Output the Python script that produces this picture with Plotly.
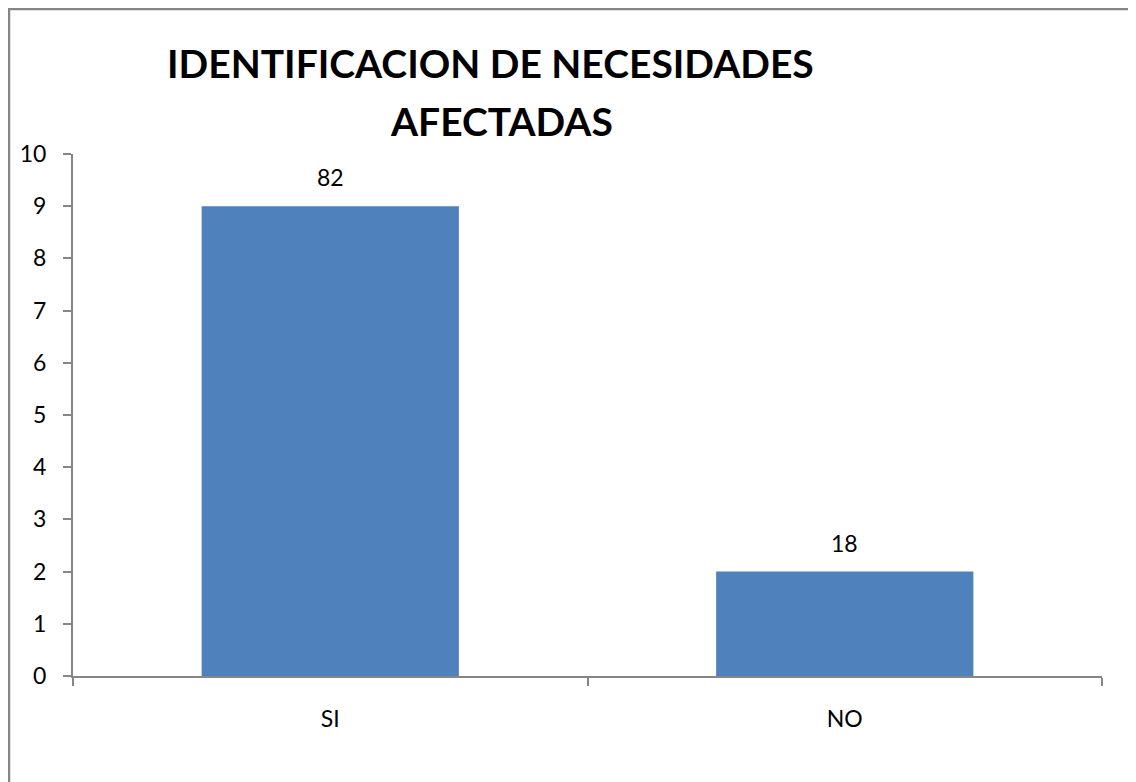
import plotly.graph_objects as go

# data
categorias = ['SI', 'NO']
valores = [9, 2]
etiquetas = ['82', '18']
titulo_1 = 'IDENTIFICACION DE NECESIDADES'
titulo_2 = 'AFECTADAS'

gris = '#868686'
azul = '#4F81BD'

fig = go.Figure()

fig.add_trace(go.Bar(
    x=categorias, y=valores,
    marker=dict(color=azul, line=dict(width=0)),
    width=0.5, hoverinfo='x+y',
))

# value labels sit a little above each bar, like the excel original
for cat, val, txt in zip(categorias, valores, etiquetas):
    fig.add_annotation(
        x=cat, y=val, text=txt, showarrow=False,
        yanchor='bottom', yshift=13,
        font=dict(family='Lato', size=23, color='black'),
    )

# two-line title
fig.add_annotation(
    text=titulo_1, xref='paper', yref='paper',
    x=0.4062, y=1.1734, xanchor='center', yanchor='middle',
    showarrow=False,
    font=dict(family='Lato', size=39, color='black', weight='bold'),
)
fig.add_annotation(
    text=titulo_2, xref='paper', yref='paper',
    x=0.4169, y=1.0623, xanchor='center', yanchor='middle',
    showarrow=False,
    font=dict(family='Lato', size=39, color='black', weight='bold'),
)

fig.update_layout(
    width=1136, height=782,
    margin=dict(l=65, r=42, t=146, b=114),
    paper_bgcolor='white', plot_bgcolor='white',
    font=dict(family='Lato', size=23, color='black'),
    showlegend=False,
    xaxis=dict(
        showline=True, linecolor=gris, linewidth=2,
        ticks='outside', tickson='boundaries', ticklen=8,
        tickcolor=gris, tickwidth=2,
        showgrid=False, ticklabelstandoff=21,
    ),
    yaxis=dict(
        range=[0, 10], dtick=1,
        showline=True, linecolor=gris, linewidth=2,
        ticks='outside', ticklen=8, tickcolor=gris, tickwidth=2,
        showgrid=False, zeroline=False, ticklabelstandoff=12,
    ),
    shapes=[dict(
        type='rect', xref='paper', yref='paper',
        x0=-0.0622, x1=1.1, y0=-0.5, y1=1.2778,
        line=dict(color=gris, width=2.5),
    )],
)

fig.write_html('out.html')
